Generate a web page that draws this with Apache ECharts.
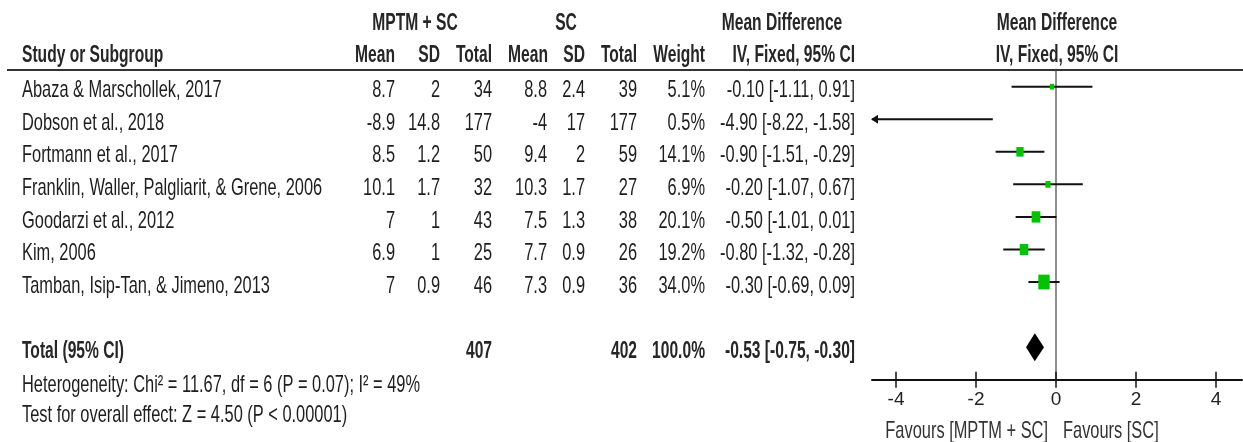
<!DOCTYPE html>
<html>
<head>
<meta charset="utf-8">
<script src="https://cdn.jsdelivr.net/npm/echarts@6/dist/echarts.min.js"></script>
<style>
html,body{margin:0;padding:0;background:#fff;}
#chart{width:1243px;height:442px;}
</style>
</head>
<body>
<div id="chart"></div>
<script>
// ---- data ----
const studies = [
  'Abaza & Marschollek, 2017',
  'Dobson et al., 2018',
  'Fortmann et al., 2017',
  'Franklin, Waller, Palgliarit, & Grene, 2006',
  'Goodarzi et al., 2012',
  'Kim, 2006',
  'Tamban, Isip-Tan, & Jimeno, 2013'
];
const expMean  = [8.7, -8.9, 8.5, 10.1, 7, 6.9, 7];
const expSD    = [2, 14.8, 1.2, 1.7, 1, 1, 0.9];
const expTotal = [34, 177, 50, 32, 43, 25, 46];
const ctlMean  = [8.8, -4, 9.4, 10.3, 7.5, 7.7, 7.3];
const ctlSD    = [2.4, 17, 2, 1.7, 1.3, 0.9, 0.9];
const ctlTotal = [39, 177, 59, 27, 38, 26, 36];
const weights  = [5.1, 0.5, 14.1, 6.9, 20.1, 19.2, 34.0];
const md       = [-0.10, -4.90, -0.90, -0.20, -0.50, -0.80, -0.30];
const ciLow    = [-1.11, -8.22, -1.51, -1.07, -1.01, -1.32, -0.69];
const ciHigh   = [0.91, -1.58, -0.29, 0.67, 0.01, -0.28, 0.09];
const totalExpN = 407, totalCtlN = 402, totalWeight = 100.0;
const totalMD = -0.53, totalLow = -0.75, totalHigh = -0.30;
const xTicks = [-4, -2, 0, 2, 4];
const heterogeneityText = 'Heterogeneity: Chi\u00b2 = 11.67, df = 6 (P = 0.07); I\u00b2 = 49%';
const overallText = 'Test for overall effect: Z = 4.50 (P < 0.00001)';

// ---- layout ----
const X_MIN = -4.6, X_MAX = 4.65;
const TOTAL_ROW = 8;
const FONT = "'Liberation Sans', Arial, sans-serif";
const SY = 1.2, SX = 0.82, SXB = 0.78;
const TXT = '#1e1e1e', HDR = '#262626';

function txt(x, y, text, align, bold, color) {
  return {
    type: 'text', x: x, y: y, scaleY: SY, scaleX: bold ? SXB : SX,
    style: {
      text: text, x: 0, y: 0, align: align, verticalAlign: 'middle',
      fontFamily: FONT, fontSize: 20, fontWeight: bold ? 'bold' : 'normal',
      fill: color || TXT
    }
  };
}
function ciStr(m, l, h) { return m.toFixed(2) + ' [' + l.toFixed(2) + ', ' + h.toFixed(2) + ']'; }

const chart = echarts.init(document.getElementById('chart'));

const studyData = studies.map((s, i) => [md[i], i, ciLow[i], ciHigh[i], weights[i]]);

const option = {
  backgroundColor: '#fff',
  animation: false,
  grid: { left: 872, right: 1, top: 68.8, height: 310.9 },
  xAxis: {
    type: 'value', min: X_MIN, max: X_MAX, position: 'bottom',
    axisLine: { show: true, onZero: false, lineStyle: { color: '#111', width: 2 } },
    axisTick: { show: false },
    splitLine: { show: false },
    axisLabel: {
      customValues: xTicks, margin: 11, color: '#222', fontSize: 19, fontFamily: "'Liberation Sans Narrow','Liberation Sans',sans-serif",
      formatter: v => String(v)
    }
  },
  yAxis: {
    type: 'value', min: -0.55, max: 9, inverse: true, show: false
  },
  graphic: [
    { type: 'line', shape: { x1: 7, y1: 70, x2: 1243, y2: 70 }, style: { stroke: '#333', lineWidth: 2 } },
    txt(415, 23, 'MPTM + SC', 'center', true, HDR),
    txt(566, 23, 'SC', 'center', true, HDR),
    txt(782, 23, 'Mean Difference', 'center', true, HDR),
    txt(1057, 23, 'Mean Difference', 'center', true, HDR),
    txt(22, 55, 'Study or Subgroup', 'left', true, HDR),
    txt(395, 55, 'Mean', 'right', true, HDR),
    txt(440, 55, 'SD', 'right', true, HDR),
    txt(492, 55, 'Total', 'right', true, HDR),
    txt(548, 55, 'Mean', 'right', true, HDR),
    txt(585, 55, 'SD', 'right', true, HDR),
    txt(637, 55, 'Total', 'right', true, HDR),
    txt(705, 55, 'Weight', 'right', true, HDR),
    txt(855, 55, 'IV, Fixed, 95% CI', 'right', true, HDR),
    txt(1057, 55, 'IV, Fixed, 95% CI', 'center', true, HDR),
    txt(22, 385, heterogeneityText, 'left', false),
    txt(22, 415, overallText, 'left', false),
    txt(1048, 431, 'Favours [MPTM + SC]', 'right', false, '#333'),
    txt(1063, 431, 'Favours [SC]', 'left', false, '#333')
  ],
  series: [
    {
      // zero line and axis ticks
      type: 'custom', clip: false, z: 1,
      data: [[0]],
      renderItem: function (params, api) {
        const top = api.coord([0, -0.55]);
        const bot = api.coord([0, 9]);
        const children = [{
          type: 'line', shape: { x1: top[0], y1: top[1], x2: bot[0], y2: bot[1] },
          style: { stroke: '#444', lineWidth: 1.2 }
        }];
        xTicks.forEach(t => {
          const p = api.coord([t, 9]);
          children.push({
            type: 'line', shape: { x1: p[0], y1: p[1] - 8, x2: p[0], y2: p[1] + 8 },
            style: { stroke: '#111', lineWidth: 1.5 }
          });
        });
        return { type: 'group', children: children };
      }
    },
    {
      // study CIs + weight squares
      type: 'custom', clip: false, z: 2,
      data: studyData,
      renderItem: function (params, api) {
        const est = api.value(0), row = api.value(1), lo = api.value(2), hi = api.value(3), w = api.value(4);
        const loC = Math.max(lo, X_MIN), hiC = Math.min(hi, X_MAX);
        const p1 = api.coord([loC, row]), p2 = api.coord([hiC, row]);
        const children = [{
          type: 'line', shape: { x1: p1[0], y1: p1[1], x2: p2[0], y2: p2[1] },
          style: { stroke: '#111', lineWidth: 2 }
        }];
        if (lo < X_MIN) {
          children.push({
            type: 'polygon',
            shape: { points: [[p1[0] - 1, p1[1]], [p1[0] + 6, p1[1] - 4.5], [p1[0] + 6, p1[1] + 4.5]] },
            style: { fill: '#111' }
          });
        }
        if (est >= X_MIN && est <= X_MAX) {
          const c = api.coord([est, row]);
          const sw = 1.95 * Math.sqrt(w), sh = 1.3 * sw;
          children.push({
            type: 'rect', shape: { x: c[0] - sw / 2, y: c[1] - sh / 2, width: sw, height: sh },
            style: { fill: '#00c400' }
          });
        }
        return { type: 'group', children: children };
      }
    },
    {
      // pooled diamond
      type: 'custom', clip: false, z: 3,
      data: [[totalMD, TOTAL_ROW, totalLow, totalHigh]],
      renderItem: function (params, api) {
        const m = api.value(0), row = api.value(1), lo = api.value(2), hi = api.value(3);
        const pl = api.coord([lo, row]), pm = api.coord([m, row]), ph = api.coord([hi, row]);
        const h = 14;
        return {
          type: 'polygon',
          shape: { points: [[pl[0], pl[1]], [pm[0], pm[1] - h], [ph[0], ph[1]], [pm[0], pm[1] + h]] },
          style: { fill: '#000' }
        };
      }
    },
    {
      // table rows
      type: 'custom', clip: false, z: 4,
      data: studies.map((s, i) => [0, i]).concat([[0, TOTAL_ROW]]),
      renderItem: function (params, api) {
        const i = params.dataIndex;
        const row = api.value(1);
        const y = api.coord([0, row])[1] + 4;
        if (i < studies.length) {
          return {
            type: 'group', children: [
              txt(22, y, studies[i], 'left'),
              txt(395, y, String(expMean[i]), 'right'),
              txt(440, y, String(expSD[i]), 'right'),
              txt(492, y, String(expTotal[i]), 'right'),
              txt(547, y, String(ctlMean[i]), 'right'),
              txt(585, y, String(ctlSD[i]), 'right'),
              txt(637, y, String(ctlTotal[i]), 'right'),
              txt(705, y, weights[i].toFixed(1) + '%', 'right'),
              txt(855, y, ciStr(md[i], ciLow[i], ciHigh[i]), 'right')
            ]
          };
        }
        return {
          type: 'group', children: [
            txt(22, y, 'Total (95% CI)', 'left', true, HDR),
            txt(492, y, String(totalExpN), 'right', true, HDR),
            txt(637, y, String(totalCtlN), 'right', true, HDR),
            txt(705, y, totalWeight.toFixed(1) + '%', 'right', true, HDR),
            txt(855, y, ciStr(totalMD, totalLow, totalHigh), 'right', true, HDR)
          ]
        };
      }
    }
  ]
};
chart.setOption(option);
</script>
</body>
</html>
